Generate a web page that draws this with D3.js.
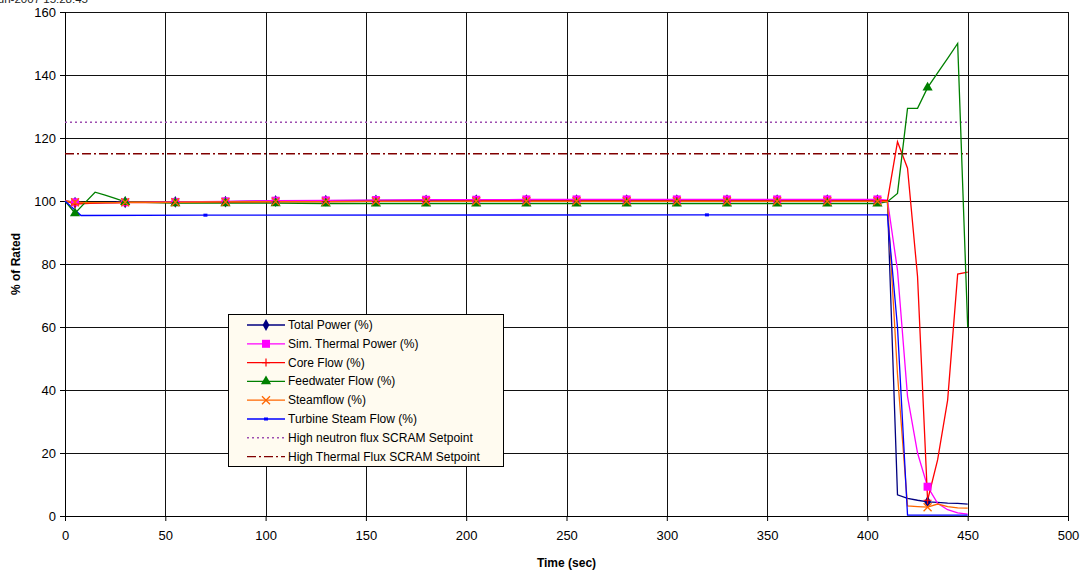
<!DOCTYPE html>
<html><head><meta charset="utf-8">
<script src="https://cdn.jsdelivr.net/npm/d3@7"></script>
<style>
body{margin:0;background:#fff;}
svg{display:block;font-family:"Liberation Sans",Arial,sans-serif;}
</style></head>
<body><svg id="c" width="1086" height="576"></svg>
<script>
// ---- data ----
const times = [0,5,10,15,20,25,30,55,80,105,130,155,180,205,230,255,280,305,330,355,380,405,410,415,420,425,430,435,440,445,450];
const totalPower = [100,99.5,99.4,99.4,99.5,99.6,99.6,99.7,99.8,100,100.1,100.2,100.2,100.3,100.3,100.3,100.3,100.3,100.3,100.3,100.3,100.3,99.8,6.7,5.6,5.0,4.5,4.3,4.1,4.0,3.8];
const simThermal = [100,99.6,99.4,99.4,99.5,99.5,99.6,99.7,99.9,100.1,100.2,100.3,100.4,100.4,100.5,100.5,100.5,100.5,100.5,100.5,100.5,100.5,100.3,78,38,20,9.3,4,2,1,0.6];
const coreFlow = [100,99,99.2,99.3,99.4,99.4,99.5,99.5,99.6,99.7,99.8,99.9,99.9,100,100,100,100,100,100,100,100,100,100.2,118.8,110.4,76,5,17.8,36.8,76.8,77.4];
const feedwater = [100,96.1,99.5,102.8,101.9,100.8,99.7,99.3,99.3,99.3,99.2,99.2,99.2,99.2,99.2,99.2,99.2,99.2,99.2,99.2,99.2,99.2,99.8,102.4,129.4,129.4,136,140.7,145.3,150,60];
const steamflow = [100,99.6,99.5,99.5,99.5,99.5,99.6,99.6,99.7,99.8,99.8,99.9,99.9,99.9,99.9,99.9,99.9,99.9,99.9,99.9,99.9,99.9,99.8,45,3.2,3.0,2.8,3.8,3.0,2.6,2.5];
const turbineTimes = [0,8,70,320,410,415,420,450];
const turbineFlow = [100,95.4,95.5,95.6,95.6,60,0.3,0.3];
const turbineMarkerTimes = [70,320];
const markerTimes = [5,30,55,80,105,130,155,180,205,230,255,280,305,330,355,380,405,430];
const setpointTimes = [0,450];
const neutronSetpoint = [125,125];
const thermalSetpoint = [115,115];
const xTicks = [0,50,100,150,200,250,300,350,400,450,500];
const yTicks = [0,20,40,60,80,100,120,140,160];
const seriesNames = ["Total Power (%)","Sim. Thermal Power (%)","Core Flow (%)","Feedwater Flow (%)","Steamflow (%)","Turbine Steam Flow (%)","High neutron flux SCRAM Setpoint","High Thermal Flux SCRAM Setpoint"];
const timestamp = "11-Jun-2007 15:28:45";

// ---- chart ----
const svg = d3.select("#c");
const L=65, R=1068, T=12, B=516;
const x = d3.scaleLinear().domain([0,500]).range([L,R]);
const y = d3.scaleLinear().domain([0,160]).range([B,T]);

svg.append("text").attr("x",88).attr("y",3).attr("text-anchor","end")
  .attr("font-size",11.5).attr("fill","#222").text(timestamp);

// grid
const g = svg.append("g").attr("shape-rendering","crispEdges");
g.selectAll(".vg").data(xTicks.slice(1)).join("line")
  .attr("x1",d=>Math.round(x(d))+0.5).attr("x2",d=>Math.round(x(d))+0.5)
  .attr("y1",T).attr("y2",B).attr("stroke","#111").attr("stroke-width",1);
g.selectAll(".hg").data(yTicks.slice(1)).join("line")
  .attr("y1",d=>Math.round(y(d))+0.5).attr("y2",d=>Math.round(y(d))+0.5)
  .attr("x1",L).attr("x2",R).attr("stroke","#111").attr("stroke-width",1);

// axes
const xAxis = d3.axisBottom(x).tickValues(xTicks).tickSize(5).tickPadding(10).tickFormat(d3.format("d"));
const gx = svg.append("g").attr("transform",`translate(0,${B})`).call(xAxis);
const yAxis = d3.axisLeft(y).tickValues(yTicks).tickSize(5).tickPadding(4).tickFormat(d3.format("d"));
const gy = svg.append("g").attr("transform",`translate(${L},0)`).call(yAxis);
[gx,gy].forEach(a=>{
  a.select(".domain").attr("stroke","#000");
  a.selectAll(".tick line").attr("stroke","#000");
  a.selectAll("text").attr("font-size",13).attr("fill","#000").attr("font-family","Liberation Sans, Arial, sans-serif");
});
gx.select(".domain").attr("d",`M${L},0.5H${R}`);
gy.select(".domain").attr("d",`M0.5,${B}V${T}`);

svg.append("text").attr("x",(L+R)/2).attr("y",567).attr("text-anchor","middle")
  .attr("font-size",12).attr("font-weight","bold").text("Time (sec)");
svg.append("text").attr("transform","translate(20,264) rotate(-90)").attr("text-anchor","middle")
  .attr("font-size",12).attr("font-weight","bold").text("% of Rated");

// marker shapes
function drawMarker(sel, type, color, cx, cy){
  if(type==="diamond") sel.append("path").attr("d",d3.symbol(d3.symbolDiamond,40)()).attr("transform",`translate(${cx},${cy})`).attr("fill",color);
  else if(type==="square") sel.append("rect").attr("x",cx-4).attr("y",cy-4).attr("width",8).attr("height",8).attr("fill",color);
  else if(type==="plus") sel.append("path").attr("d",`M${cx-4},${cy}H${cx+4}M${cx},${cy-4}V${cy+4}`).attr("stroke",color).attr("stroke-width",1.2);
  else if(type==="triangle") sel.append("path").attr("d",d3.symbol(d3.symbolTriangle,45)()).attr("transform",`translate(${cx},${cy})`).attr("fill",color);
  else if(type==="x") sel.append("path").attr("d",`M${cx-4},${cy-4}L${cx+4},${cy+4}M${cx-4},${cy+4}L${cx+4},${cy-4}`).attr("stroke",color).attr("stroke-width",1.3);
  else if(type==="dot") sel.append("rect").attr("x",cx-2).attr("y",cy-1.5).attr("width",4).attr("height",3).attr("fill",color);
}

const series = [
  {name:seriesNames[0], t:times, v:totalPower, color:"#000080", marker:"diamond", mt:markerTimes},
  {name:seriesNames[1], t:times, v:simThermal, color:"#FF00FF", marker:"square", mt:markerTimes},
  {name:seriesNames[2], t:times, v:coreFlow, color:"#FF0000", marker:"plus", mt:markerTimes},
  {name:seriesNames[3], t:times, v:feedwater, color:"#008000", marker:"triangle", mt:markerTimes},
  {name:seriesNames[4], t:times, v:steamflow, color:"#FF6600", marker:"x", mt:markerTimes},
  {name:seriesNames[5], t:turbineTimes, v:turbineFlow, color:"#0000FF", marker:"dot", mt:turbineMarkerTimes},
];
const line = d3.line().x(d=>x(d[0])).y(d=>y(d[1]));
const plot = svg.append("g");
plot.append("path").datum(setpointTimes.map((t,i)=>[t,neutronSetpoint[i]])).attr("d",line)
  .attr("fill","none").attr("stroke","#9E4FB0").attr("stroke-width",1.5).attr("stroke-dasharray","2,3");
plot.append("path").datum(setpointTimes.map((t,i)=>[t,thermalSetpoint[i]])).attr("d",line)
  .attr("fill","none").attr("stroke","#800000").attr("stroke-width",1.3).attr("stroke-dasharray","9,3,2,3");
series.forEach(s=>{
  const pts = s.t.map((t,i)=>[t,s.v[i]]);
  plot.append("path").datum(pts).attr("d",line).attr("fill","none").attr("stroke",s.color).attr("stroke-width",1.3);
});
series.forEach(s=>{
  const mg = plot.append("g");
  s.t.forEach((t,i)=>{ if(s.mt.includes(t)) drawMarker(mg,s.marker,s.color,x(t),y(s.v[i])); });
});

// legend
const lg = svg.append("g");
lg.append("rect").attr("x",228.5).attr("y",314.5).attr("width",275).attr("height",152)
  .attr("fill","#FFFBF0").attr("stroke","#000").attr("stroke-width",1);
const legendItems = [...series.map(s=>({name:s.name,color:s.color,marker:s.marker,dash:null,w:1.3})),
  {name:seriesNames[6],color:"#9E4FB0",marker:null,dash:"2,3",w:1.5},
  {name:seriesNames[7],color:"#800000",marker:null,dash:"9,3,2,3",w:1.3}];
legendItems.forEach((it,i)=>{
  const cy = 325 + i*18.8;
  lg.append("line").attr("x1",247).attr("x2",285).attr("y1",cy).attr("y2",cy)
    .attr("stroke",it.color).attr("stroke-width",it.w).attr("stroke-dasharray",it.dash);
  if(it.marker) drawMarker(lg,it.marker,it.color,266,cy);
  lg.append("text").attr("x",288).attr("y",cy+4).attr("font-size",12).attr("fill","#000").text(it.name);
});
</script></body></html>
